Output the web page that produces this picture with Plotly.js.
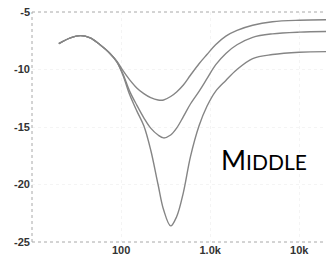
<!DOCTYPE html>
<html>
<head>
<meta charset="utf-8">
<script src="https://cdn.plot.ly/plotly-3.0.1.min.js"></script>
<style>html,body{margin:0;padding:0;background:#fff;}#chart{width:326px;height:255px;}</style>
</head>
<body>
<div id="chart"></div>
<script>
var freq = [20, 27, 35, 45, 58, 75, 90, 105, 125, 150, 180, 215, 260, 300, 360, 420, 500, 600, 750, 920, 1150, 1500, 2000, 3000, 5000, 10000, 20000];
var curveTop = [-7.75, -7.25, -7.05, -7.25, -7.85, -8.6, -9.3, -10.1, -10.9, -11.6, -12.1, -12.45, -12.65, -12.65, -12.35, -11.95, -11.35, -10.5, -9.5, -8.7, -7.85, -7.1, -6.6, -6.15, -5.85, -5.72, -5.68];
var curveMid = [-7.75, -7.25, -7.05, -7.25, -7.85, -8.6, -9.35, -10.4, -11.9, -13.1, -14.2, -15.1, -15.7, -15.95, -15.7, -15.1, -14.1, -13.0, -11.9, -10.8, -9.6, -8.6, -7.85, -7.2, -6.9, -6.75, -6.7];
var curveBot = [-7.75, -7.25, -7.05, -7.25, -7.85, -8.6, -9.35, -10.5, -12.2, -13.6, -14.9, -17.0, -20.0, -22.2, -23.6, -22.8, -20.7, -17.6, -14.9, -13.2, -11.9, -10.95, -10.0, -9.05, -8.7, -8.5, -8.45];
var xTickVals = [100, 1000, 10000];
var xTickText = ['100', '1.0k', '10k'];
var yTickVals = [-25, -20, -15, -10, -5];
var yTickText = ['-25', '-20', '-15', '-10', '-5'];

function tr(y) {
  return {x: freq, y: y, type: 'scatter', mode: 'lines',
    line: {color: '#858585', width: 1.4, shape: 'spline', smoothing: 1}, hoverinfo: 'none'};
}
var data = [tr(curveTop), tr(curveMid), tr(curveBot)];
var dotLine = {color: '#a8a8a8', width: 1, dash: 'dot'};
var layout = {
  width: 326, height: 255,
  margin: {l: 32, r: 0, t: 12, b: 13},
  paper_bgcolor: '#fff', plot_bgcolor: '#fff',
  showlegend: false,
  xaxis: {type: 'log', range: [1, 4.3], tickvals: xTickVals, ticktext: xTickText,
    showgrid: true, gridcolor: '#f4f4f4', griddash: 'dot', zeroline: false, showline: false, ticks: '',
    tickfont: {family: 'Liberation Sans', size: 11, color: '#333', weight: 'bold'}},
  yaxis: {range: [-25, -5], tickvals: yTickVals, ticktext: yTickText,
    showgrid: true, gridcolor: '#f4f4f4', griddash: 'dot', zeroline: false, showline: false, ticks: '',
    ticklabelstandoff: 1,
    tickfont: {family: 'Liberation Sans', size: 11, color: '#333', weight: 'bold'}},
  shapes: [
    {type: 'line', xref: 'paper', yref: 'paper', x0: 0, x1: 1, y0: 1, y1: 1, line: dotLine},
    {type: 'line', xref: 'paper', yref: 'paper', x0: 0, x1: 1, y0: 0, y1: 0, line: dotLine},
    {type: 'line', xref: 'paper', yref: 'paper', x0: 0, x1: 0, y0: 0, y1: 1, line: dotLine}
  ],
  annotations: [{
    xref: 'paper', yref: 'paper', x: 0.79, y: 0.357, xanchor: 'center', yanchor: 'middle',
    showarrow: false,
    text: 'M<span style="font-size:21px">IDDLE</span>',
    font: {family: 'Lato', size: 27, color: '#000'}
  }]
};
Plotly.newPlot('chart', data, layout, {staticPlot: true, displayModeBar: false});
</script>
</body>
</html>
